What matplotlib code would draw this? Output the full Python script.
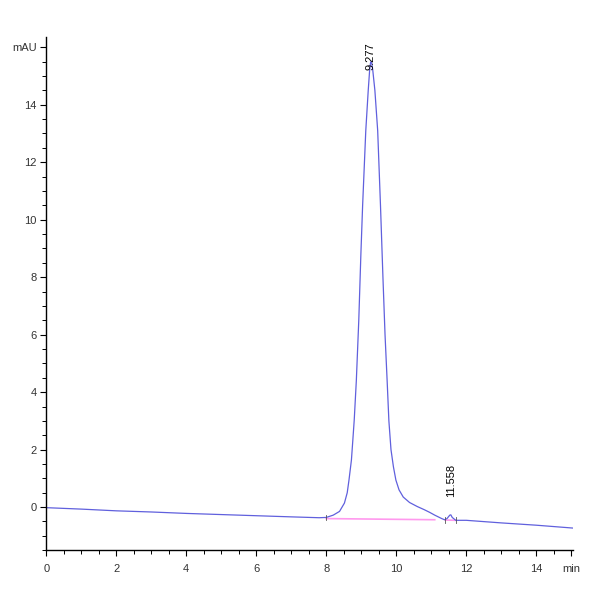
import numpy as np
import matplotlib.pyplot as plt
from matplotlib.ticker import MultipleLocator

# chromatogram trace (time in min, signal in mAU)
time = [0.0, 1.0, 2.0, 3.0, 4.0, 5.0, 6.0, 7.0, 7.8, 8.0, 8.2, 8.38, 8.52,
        8.60, 8.65, 8.72, 8.76, 8.80, 8.86, 8.93, 8.99, 9.04, 9.13, 9.20,
        9.24, 9.265, 9.28, 9.30, 9.33, 9.39, 9.47, 9.55, 9.62, 9.68, 9.74,
        9.79, 9.85, 9.92, 9.99, 10.08, 10.2, 10.38, 10.6, 10.8, 10.95, 11.1,
        11.3, 11.38, 11.45, 11.53, 11.56, 11.6, 11.7, 12.0, 13.0, 14.0, 15.05]
signal = [-0.02, -0.07, -0.13, -0.17, -0.22, -0.26, -0.30, -0.34, -0.37, -0.36,
          -0.28, -0.15, 0.14, 0.5, 0.94, 1.64, 2.33, 3.03, 4.4, 6.5, 8.8, 10.5,
          13.1, 14.5, 15.2, 15.45, 15.5, 15.45, 15.2, 14.5, 13.1, 10.5, 8.0,
          6.0, 4.4, 3.0, 2.0, 1.4, 0.94, 0.6, 0.35, 0.16, 0.02, -0.09, -0.18,
          -0.28, -0.40, -0.44, -0.40, -0.28, -0.27, -0.36, -0.46, -0.46,
          -0.55, -0.63, -0.73]

# integration baselines (start, end) with levels
base_t = [[8.0, 11.1], [11.4, 11.7]]
base_y = [[-0.40, -0.44], [-0.45, -0.46]]
events = [8.0, 11.38, 11.7]

peak_rt = [9.277, 11.558]
peak_lbl = ['9.277', '11.558']
peak_lbl_y = [15.2, 0.35]

fig = plt.figure(figsize=(6, 6), dpi=100)
ax = fig.add_axes([0.077, 0.083, 0.878, 0.855])

ax.plot(time, signal, color='#6060dd', linewidth=0.9)
for bt, by in zip(base_t, base_y):
    ax.plot(bt, by, color='#ff99ee', linewidth=1.2, zorder=1)
for e in events:
    yv = np.interp(e, time, signal)
    ax.plot([e, e], [yv - 0.1, yv + 0.1], color='#555555', linewidth=0.6)

for rt, lb, ly in zip(peak_rt, peak_lbl, peak_lbl_y):
    ax.text(rt, ly, lb, rotation=90, ha='center', va='bottom', fontsize=8,
            family='Liberation Sans', clip_on=False)

ax.set_xlim(0, 15.05)
ax.set_ylim(-1.5, 16.35)
ax.xaxis.set_minor_locator(MultipleLocator(0.5))
ax.yaxis.set_minor_locator(MultipleLocator(0.5))

xt = [0, 2, 4, 6, 8, 10, 12, 14, 15]
ax.set_xticks(xt)
ax.set_xticklabels([str(v) for v in xt[:-1]] + ['min'])
yt = [0, 2, 4, 6, 8, 10, 12, 14, 16]
ax.set_yticks(yt)
ax.set_yticklabels([str(v) for v in yt[:-1]] + ['mAU'])

for lab in ax.get_xticklabels() + ax.get_yticklabels():
    lab.set_family('Liberation Sans')
    lab.set_fontsize(8)
    lab.set_color('#333333')

ax.tick_params(axis='y', which='major', pad=3)
ax.tick_params(axis='x', which='major', pad=6)
ax.tick_params(which='major', direction='out', length=4, width=0.8)
ax.tick_params(which='minor', direction='out', length=3, width=0.7)
ax.spines['top'].set_visible(False)
ax.spines['right'].set_visible(False)
ax.spines['left'].set_linewidth(1.0)
ax.spines['bottom'].set_linewidth(1.0)

plt.savefig('out.png', dpi=100)
plt.close()
